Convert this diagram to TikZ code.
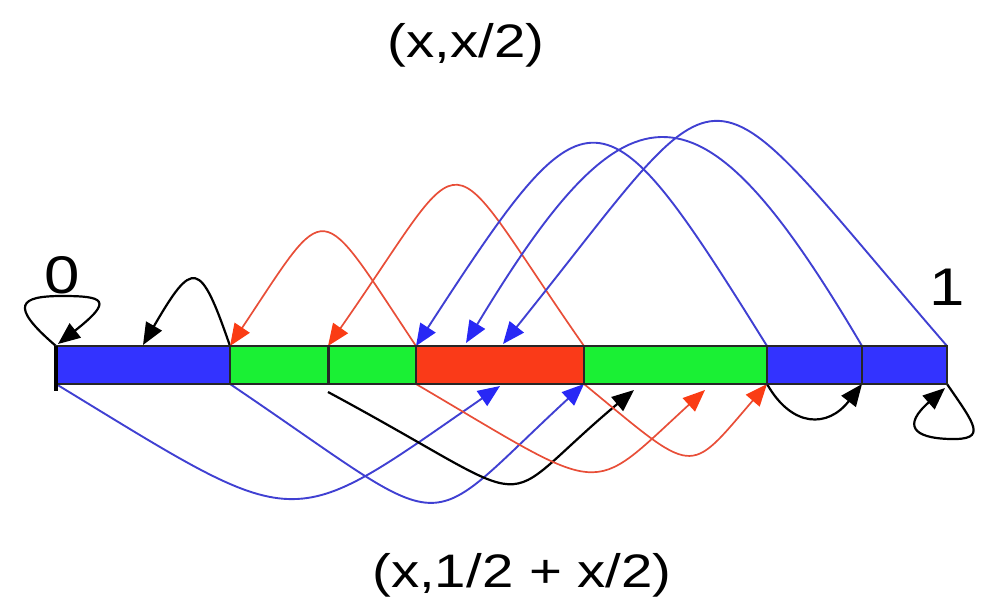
\documentclass[tikz,border=0pt]{standalone}
\usepackage{fontspec}
\setmainfont{Liberation Sans}
\usetikzlibrary{arrows.meta}
\definecolor{barblue}{RGB}{51,51,255}
\definecolor{bargreen}{RGB}{26,240,52}
\definecolor{barred}{RGB}{250,58,24}
\definecolor{arcblue}{RGB}{64,64,210}
\definecolor{arcred}{RGB}{232,78,56}
\definecolor{tipblue}{RGB}{40,40,245}
\definecolor{tipred}{RGB}{250,60,20}
\begin{document}
\begin{tikzpicture}[x=0.5pt,y=-0.5pt,
  seg/.style={draw=black!85, line width=0.8pt},
  bluearc/.style={draw=arcblue, line width=0.95pt, -{Triangle[length=11pt,width=9pt,color=tipblue]}},
  redarc/.style={draw=arcred, line width=0.85pt, -{Triangle[length=11pt,width=9pt,color=tipred]}},
  blackarc/.style={draw=black, line width=1.1pt, -{Triangle[length=11pt,width=9pt,color=black]}},
  lbl/.style={inner sep=0pt, anchor=base, font=\fontsize{23.5pt}{28pt}\selectfont},
  dig/.style={inner sep=0pt, anchor=base, font=\fontsize{26.5pt}{30pt}\selectfont}]
\useasboundingbox (0,0) rectangle (983,605);
% bar points
\coordinate (t0) at (56,346);  \coordinate (b0) at (56,384);
\coordinate (t1) at (230,346); \coordinate (b1) at (230,384);
\coordinate (t2) at (328,346); \coordinate (b2) at (328,384);
\coordinate (t3) at (416,346); \coordinate (b3) at (416,384);
\coordinate (t4) at (584,346); \coordinate (b4) at (584,384);
\coordinate (t5) at (767,346); \coordinate (b5) at (767,384);
\coordinate (t6) at (862,346); \coordinate (b6) at (862,384);
\coordinate (t7) at (947,346); \coordinate (b7) at (947,384);
% arrow targets
\coordinate (tA) at (143,345);
\coordinate (tB) at (466,343);
\coordinate (tC) at (503,344);
\coordinate (tZ) at (58,344);
\coordinate (bA) at (500,386);
\coordinate (bc) at (328,392);
\coordinate (bC) at (634,390);
\coordinate (bD) at (705,390);
\coordinate (bZ) at (945,388);
% upper arcs (x -> x/2)
\draw[blackarc] (t0) .. controls (8,305) and (20,296) .. (62,296) .. controls (104,296) and (114,300) .. (tZ);
\draw[blackarc] (t1) .. controls (200,259) and (193,259) .. (tA);
\draw[redarc] (t3) .. controls (316,196) and (330,196) .. (t1);
\draw[redarc] (t4) .. controls (436,134) and (476,134) .. (t2);
\draw[bluearc] (t5) .. controls (600,78) and (590,78) .. (t3);
\draw[bluearc] (t6) .. controls (700,71) and (630,71) .. (tB);
\draw[bluearc] (t7) .. controls (690,49) and (740,49) .. (tC);
% lower arcs (x -> 1/2 + x/2)
\draw[bluearc] (b0) .. controls (304,535) and (285,535) .. (bA);
\draw[bluearc] (b1) .. controls (461,540) and (415,540) .. (b4);
\draw[blackarc] (bc) .. controls (553,513) and (487,513) .. (bC);
\draw[redarc] (b3) .. controls (610,498) and (587,498) .. (bD);
\draw[redarc] (b4) .. controls (697,477) and (687,477) .. (b5);
\draw[blackarc] (b5) .. controls (792,428) and (828,428) .. (b6);
\draw[blackarc] (b7) .. controls (975,425) and (988,440) .. (950,439) .. controls (912,438) and (903,425) .. (bZ);
% bar
\filldraw[seg, fill=barblue] (t0) rectangle (b1);
\filldraw[seg, fill=bargreen] (t1) rectangle (b2);
\filldraw[seg, fill=bargreen] (t2) rectangle (b3);
\filldraw[seg, fill=barred] (t3) rectangle (b4);
\filldraw[seg, fill=bargreen] (t4) rectangle (b5);
\filldraw[seg, fill=barblue] (t5) rectangle (b6);
\filldraw[seg, fill=barblue] (t6) rectangle (b7);
\draw[line width=2pt] (t0) -- (56,391);
\draw[line width=1.5pt, black!85] (t2) -- (b2);
\draw[line width=1.2pt, black!85] (t6) -- (b6);
% labels
\node[lbl] (top) at (466,57) {\scalebox{1.2}[1]{(x,x/2)}};
\node[lbl] (bot) at (522,587) {\scalebox{1.2}[1]{(x,1/2 + x/2)}};
\node[dig] (zero) at (62,293) {\scalebox{1.2}[1]{0}};
\node[dig] (one) at (947,305) {\scalebox{1.2}[1]{1}};
\end{tikzpicture}
\end{document}
